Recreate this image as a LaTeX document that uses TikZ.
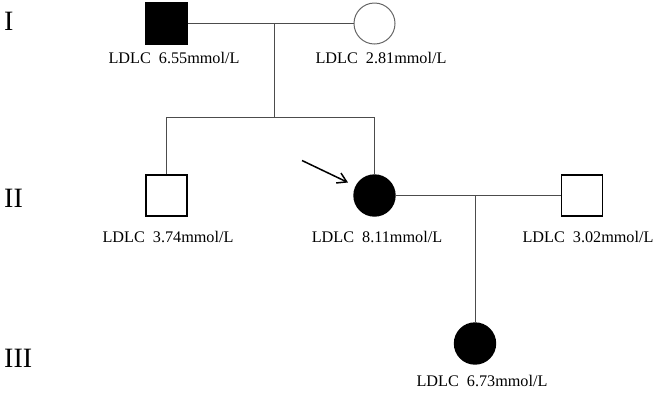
\documentclass[tikz,border=0pt]{standalone}
\usepackage{fontspec}
\setmainfont{Liberation Serif}
\usetikzlibrary{arrows.meta}
\begin{document}
\begin{tikzpicture}[x=1pt,y=-1pt,
  line/.style={draw=black!70, line width=1pt},
  male/.style={draw=black, line width=1.4pt, minimum size=41pt, inner sep=0pt, shape=rectangle},
  female/.style={draw=black, line width=1.4pt, minimum size=41pt, inner sep=0pt, shape=circle},
  aff/.style={fill=black},
  lab/.style={font=\fontsize{16.2}{18}\selectfont, inner sep=0pt, anchor=base},
  gen/.style={font=\fontsize{28}{30}\selectfont, inner sep=0pt, anchor=base west}]
\useasboundingbox (0,0) rectangle (669,392);
% generation labels
\node[gen] (g1) at (4,30) {I};
\node[gen] (g2) at (4,207) {II};
\node[gen] (g3) at (4,367) {III};
% individuals
\node[male,aff] (i1) at (166.5,23.5) {};
\node[female,draw=black!60,line width=1pt] (i2) at (374.5,23.5) {};
\node[male] (ii1) at (166.5,195.5) {};
\node[female,aff] (ii2) at (374.5,195.5) {};
\node[male] (ii3) at (582,195.5) {};
\node[female,aff] (iii1) at (475,343.5) {};
% labels
\node[lab] (l1) at (174,63) {LDLC\ \ 6.55mmol/L};
\node[lab] (l2) at (381,63) {LDLC\ \ 2.81mmol/L};
\node[lab] (l3) at (168,242) {LDLC\ \ 3.74mmol/L};
\node[lab] (l4) at (377,242) {LDLC\ \ 8.11mmol/L};
\node[lab] (l5) at (588,242) {LDLC\ \ 3.02mmol/L};
\node[lab] (l6) at (482,386) {LDLC\ \ 6.73mmol/L};
% connectors
\coordinate (m1) at (274.5,23.5);
\coordinate (s1) at (274.5,117);
\coordinate (s1l) at (166.5,117);
\coordinate (s1r) at (374.5,117);
\coordinate (m2) at (475,195.5);
\draw[line] (i1.east) -- (i2.west);
\draw[line] (m1) -- (s1);
\draw[line] (ii1.north) -- (s1l) -- (s1r) -- (ii2.north);
\draw[line] (ii2.east) -- (ii3.west);
\draw[line] (m2) -- (iii1.north);
% proband arrow
\coordinate (pa) at (302,160.5);
\coordinate (pb) at (348,182.5);
\draw[line width=1.5pt, -{Straight Barb[length=9pt,width=11pt,line width=1.5pt]}] (pa) -- (pb);
\end{tikzpicture}
\end{document}
